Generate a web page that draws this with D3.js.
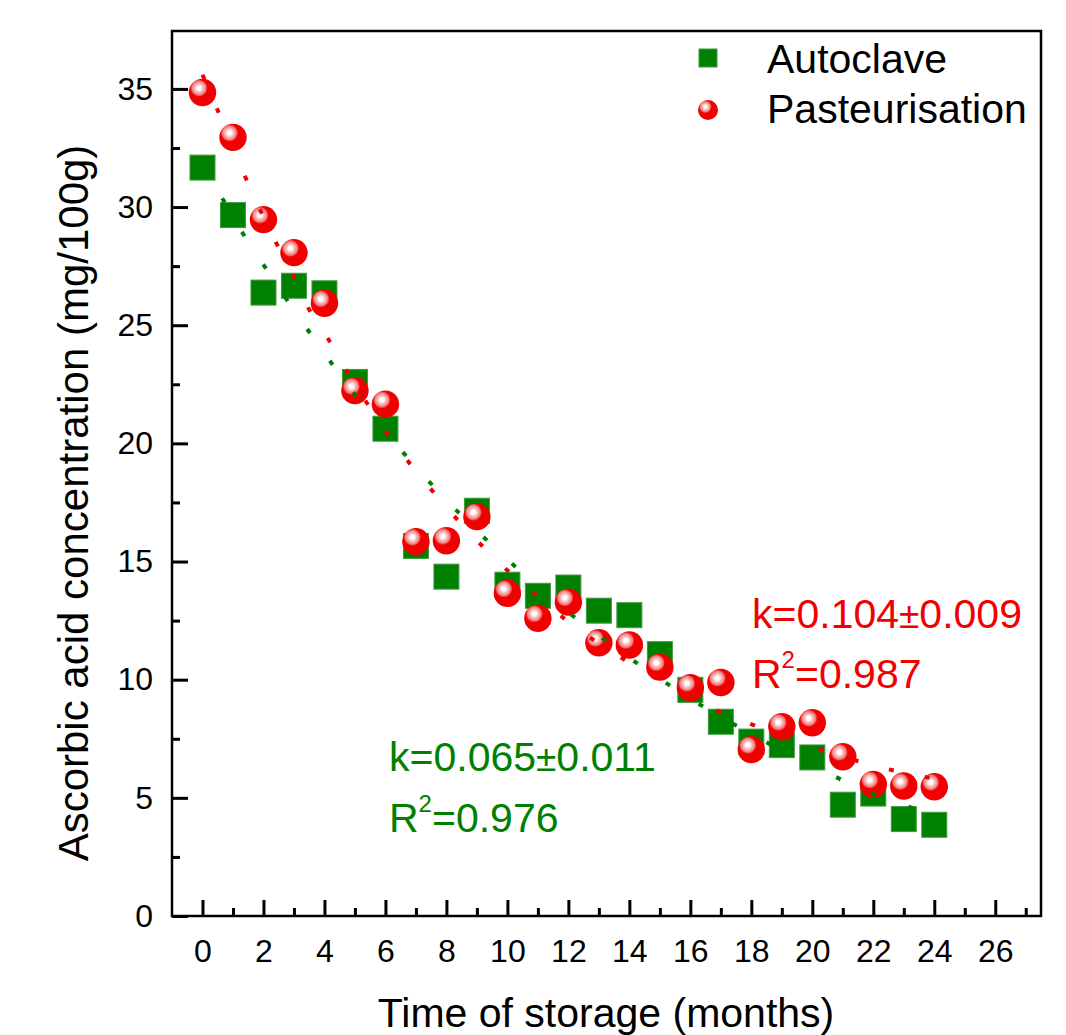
<!DOCTYPE html>
<html>
<head>
<meta charset="utf-8">
<script src="https://cdn.jsdelivr.net/npm/d3@7/dist/d3.min.js"></script>
<style>
  html, body { margin: 0; padding: 0; background: #fff; }
  svg { display: block; font-family: "Liberation Sans", Arial, sans-serif; }
</style>
</head>
<body>
<svg id="chart" width="1066" height="1035"></svg>
<script>
// ---------- data ----------
const months = [0,1,2,3,4,5,6,7,8,9,10,11,12,13,14,15,16,17,18,19,20,21,22,23,24];
const autoclave = [31.67,29.66,26.38,26.67,26.35,22.6,20.62,15.66,14.36,17.15,14.02,13.55,13.9,12.92,12.73,11.08,9.57,8.22,7.38,7.23,6.71,4.71,5.18,4.10,3.86];
const pasteurisation = [34.85,32.95,29.47,28.07,25.93,22.23,21.66,15.84,15.88,16.9,13.66,12.6,13.28,11.56,11.47,10.53,9.66,9.88,7.04,8.01,8.18,6.74,5.57,5.5,5.47];

// fitted curves (dotted)
const pastFitT = [0,0.47,1.36,2.37,2.92,3.44,4.1,4.75,5.43,6.17,6.99,7.87,8.83,9.87,10.95,12.0,14.13,15.2,16.26,17.29,18.36,19.43,20.49,21.56,22.6,23.39,24];
const pastFitV = [35.6,34.18,31.4,28.6,27.24,25.8,24.47,23.03,21.63,20.2,18.85,17.49,16.12,14.78,13.57,12.45,10.62,9.82,9.07,8.46,7.94,7.4,6.95,6.53,6.18,5.97,5.8];
const autoFitT = [0,0.68,1.34,2.04,2.79,3.52,4.29,5.11,6.9,7.85,8.87,9.94,12.05,13.13,14.18,15.25,16.31,17.38,18.47,19.51,20.54,21.6,22.66,23.42,24];
const autoFitV = [31.8,30.3,28.85,27.48,26.03,24.68,23.29,21.88,19.15,17.8,16.47,15.16,12.8,11.75,10.76,9.82,8.95,8.15,7.37,6.64,6.03,5.36,4.84,4.52,4.3];

const xMajorTicks = [0,2,4,6,8,10,12,14,16,18,20,22,24,26];
const xMinorTicks = [1,3,5,7,9,11,13,15,17,19,21,23,25,27];
const yMajorTicks = [0,5,10,15,20,25,30,35];
const yMinorTicks = [2.5,7.5,12.5,17.5,22.5,27.5,32.5];

const seriesNames = ["Autoclave", "Pasteurisation"];
const xTitle = "Time of storage (months)";
const yTitle = "Ascorbic acid concentration (mg/100g)";
const autoK = ["k=0.065", "\u00b1", "0.011"], autoR2 = "=0.976";
const pastK = ["k=0.104", "\u00b1", "0.009"], pastR2 = "=0.987";

// ---------- layout ----------
const GREEN = "#008000", RED = "#f00000";
const L = 172, R = 1041, T = 31, B = 916;
const svg = d3.select("#chart");

const x = d3.scaleLinear().domain([-1, 27.5]).range([L, R]);
const y = d3.scaleLinear().domain([0, 37.45]).range([B, T]);

// gradient for spheres
const defs = svg.append("defs");
const grad = defs.append("radialGradient").attr("id", "sphere")
  .attr("cx", "37%").attr("cy", "34%").attr("r", "66%").attr("fx", "37%").attr("fy", "34%");
grad.append("stop").attr("offset", "0").attr("stop-color", "#ffffff");
grad.append("stop").attr("offset", "0.1").attr("stop-color", "#ffffff");
grad.append("stop").attr("offset", "0.24").attr("stop-color", "#f9b8b8");
grad.append("stop").attr("offset", "0.38").attr("stop-color", "#f47c7c");
grad.append("stop").attr("offset", "0.48").attr("stop-color", RED);
grad.append("stop").attr("offset", "1").attr("stop-color", RED);

// frame
svg.append("rect").attr("x", L).attr("y", T).attr("width", R - L).attr("height", B - T)
  .attr("fill", "none").attr("stroke", "#000").attr("stroke-width", 2.5);

// axes
const styleAxis = g => {
  g.select(".domain").remove();
  g.selectAll(".tick line").attr("stroke", "#000").attr("stroke-width", 3);
  g.selectAll(".tick text").attr("fill", "#000").style("font-size", "32px")
    .style("font-family", '"Liberation Sans", Arial, sans-serif');
};
svg.append("g").attr("transform", `translate(0,${B})`)
  .call(d3.axisBottom(x).tickValues(xMajorTicks).tickSizeInner(-16).tickSizeOuter(0).tickPadding(23).tickFormat(d3.format("d")))
  .call(styleAxis);
svg.append("g").attr("transform", `translate(0,${B})`)
  .call(d3.axisBottom(x).tickValues(xMinorTicks).tickSizeInner(-8).tickSizeOuter(0).tickFormat(""))
  .call(styleAxis);
svg.append("g").attr("transform", `translate(${L},0)`)
  .call(d3.axisLeft(y).tickValues(yMajorTicks).tickSizeInner(-16).tickSizeOuter(0).tickPadding(19).tickFormat(d3.format("d")))
  .call(styleAxis);
svg.append("g").attr("transform", `translate(${L},0)`)
  .call(d3.axisLeft(y).tickValues(yMinorTicks).tickSizeInner(-8).tickSizeOuter(0).tickFormat(""))
  .call(styleAxis);

// axis titles
svg.append("text").attr("x", 606).attr("y", 1027).attr("text-anchor", "middle")
  .style("font-size", "41px").text(xTitle);
svg.append("text").attr("transform", "translate(88,503) rotate(-90)").attr("text-anchor", "middle")
  .style("font-size", "42px").text(yTitle);

// markers
const autoData = months.map((m, i) => ({ t: m, v: autoclave[i] }));
const pastData = months.map((m, i) => ({ t: m, v: pasteurisation[i] }));
const SQ = 25;
svg.append("g").selectAll("rect").data(autoData).join("rect")
  .attr("x", d => x(d.t) - SQ / 2).attr("y", d => y(d.v) - SQ / 2)
  .attr("width", SQ).attr("height", SQ)
  .attr("fill", GREEN).attr("stroke", "#3f9a3f").attr("stroke-width", 1);
svg.append("g").selectAll("circle").data(pastData).join("circle")
  .attr("cx", d => x(d.t)).attr("cy", d => y(d.v)).attr("r", 13.7)
  .attr("fill", "url(#sphere)");

// fitted dotted lines (on top)
const line = d3.line().x(d => x(d[0])).y(d => y(d[1])).curve(d3.curveMonotoneX);
svg.append("path").datum(autoFitT.map((t, i) => [t, autoFitV[i]]))
  .attr("d", line).attr("fill", "none").attr("stroke", GREEN)
  .attr("stroke-width", 4).attr("stroke-dasharray", "5,34");
svg.append("path").datum(pastFitT.map((t, i) => [t, pastFitV[i]]))
  .attr("d", line).attr("fill", "none").attr("stroke", RED)
  .attr("stroke-width", 4).attr("stroke-dasharray", "5,31.5");

// legend
const lg = svg.append("g");
lg.append("rect").attr("x", 708 - 9).attr("y", 58 - 9).attr("width", 18).attr("height", 18)
  .attr("fill", GREEN).attr("stroke", "#3f9a3f").attr("stroke-width", 1);
lg.append("circle").attr("cx", 708).attr("cy", 110).attr("r", 10).attr("fill", "url(#sphere)");
lg.append("text").attr("x", 767).attr("y", 73).style("font-size", "41px").text(seriesNames[0]);
lg.append("text").attr("x", 767).attr("y", 123).style("font-size", "41px").text(seriesNames[1]);

// annotations
function annot(xp, y1, y2, color, kParts, r2Text) {
  const g = svg.append("g").attr("fill", color);
  const t1 = g.append("text").attr("x", xp).attr("y", y1).style("font-size", "41px");
  t1.append("tspan").text(kParts[0]);
  t1.append("tspan").style("font-size", "37px").text(kParts[1]);
  t1.append("tspan").text(kParts[2]);
  const t2 = g.append("text").attr("x", xp).attr("y", y2).style("font-size", "41px");
  t2.append("tspan").text("R");
  t2.append("tspan").attr("dy", -20).style("font-size", "24px").text("2");
  t2.append("tspan").attr("dy", 20).text(r2Text);
}
annot(752, 628, 688, RED, pastK, pastR2);
annot(389, 771, 832, GREEN, autoK, autoR2);
</script>
</body>
</html>
